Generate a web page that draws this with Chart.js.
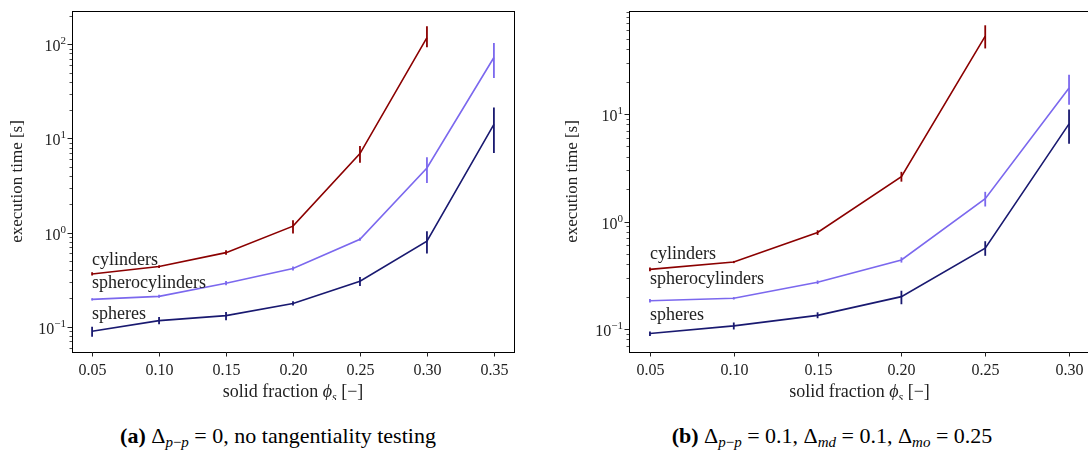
<!DOCTYPE html>
<html>
<head>
<meta charset="utf-8">
<script src="https://cdn.jsdelivr.net/npm/chart.js@4"></script>
<style>
  body { margin: 0; width: 1088px; height: 452px; overflow: hidden; background: #fff; position: relative;
         font-family: 'Liberation Serif', 'DejaVu Serif', serif; color: #000; }
  canvas { position: absolute; top: 0; }
  #chartA { left: 0; }
  #chartB { left: 544px; }
  .cap { position: absolute; top: 423px; height: 26px; line-height: 26px; font-size: 22px;
         white-space: nowrap; transform: translateX(-50%); }
  .cap sub { font-size: 15px; vertical-align: -4px; line-height: 0; }
</style>
</head>
<body>
<canvas id="chartA" width="544" height="400"></canvas>
<canvas id="chartB" width="560" height="400"></canvas>
<div class="cap" style="left:278px"><b>(a)</b> Δ<sub><i>p</i>−<i>p</i></sub> = 0, no tangentiality testing</div>
<div class="cap" style="left:832px"><b>(b)</b> Δ<sub><i>p</i>−<i>p</i></sub> = 0.1, Δ<sub><i>md</i></sub> = 0.1, Δ<sub><i>mo</i></sub> = 0.25</div>
<script>
const FONT = "'Liberation Serif', 'DejaVu Serif', serif";

// series names, colours and where their labels sit (data coords, x = first fraction)
const names = ['cylinders', 'spherocylinders', 'spheres'];
const colors = ['#8b0000', '#7b68ee', '#191970'];
const labelY = [0.45, 0.26, 0.12];

// (a) no tangentiality testing
const fracA = [0.05, 0.10, 0.15, 0.20, 0.25, 0.30, 0.35];
const cylA   = [0.363, 0.435, 0.612, 1.17, 6.9, 118];
const cylLoA = [0.35, 0.42, 0.58, 0.98, 5.5, 93];
const cylHiA = [0.378, 0.45, 0.65, 1.35, 8.3, 156];
const sphcA   = [0.195, 0.21, 0.289, 0.414, 0.849, 4.86, 72.4];
const sphcLoA = [0.19, 0.203, 0.275, 0.395, 0.82, 3.37, 44];
const sphcHiA = [0.2, 0.218, 0.305, 0.435, 0.88, 6.3, 103];
const sphA   = [0.0893, 0.116, 0.131, 0.176, 0.304, 0.81, 14.1];
const sphLoA = [0.078, 0.106, 0.117, 0.168, 0.271, 0.6, 7.0];
const sphHiA = [0.1, 0.127, 0.143, 0.186, 0.337, 1.03, 21.3];

// (b) with tangentiality testing
const fracB = [0.05, 0.10, 0.15, 0.20, 0.25, 0.30];
const cylB   = [0.359, 0.42, 0.79, 2.61, 53.2];
const cylLoB = [0.345, 0.41, 0.75, 2.35, 40.8];
const cylHiB = [0.373, 0.43, 0.83, 2.9, 67];
const sphcB   = [0.183, 0.193, 0.272, 0.439, 1.63, 17.5];
const sphcLoB = [0.176, 0.188, 0.262, 0.415, 1.38, 12.2];
const sphcHiB = [0.19, 0.198, 0.283, 0.465, 1.89, 23.2];
const sphB   = [0.0908, 0.107, 0.134, 0.2, 0.564, 8.1];
const sphLoB = [0.086, 0.099, 0.126, 0.17, 0.48, 5.3];
const sphHiB = [0.095, 0.115, 0.143, 0.227, 0.656, 11.0];

function toPoints(xs, ys) {
  return ys.map((y, i) => ({ x: xs[i], y: y }));
}

// draws a row of [text, font, dy] pieces starting at x
function drawPieces(ctx, pieces, x, y) {
  for (const [t, f, dy] of pieces) {
    ctx.font = f;
    ctx.fillText(t, x, y + dy);
    x += ctx.measureText(t).width;
  }
}
function piecesWidth(ctx, pieces) {
  let w = 0;
  for (const [t, f] of pieces) { ctx.font = f; w += ctx.measureText(t).width; }
  return w;
}

function makeChart(id, xs, series, lo, hi, range, yAxisW, padRight, ylabelX) {
  const deco = {
    id: 'deco',
    afterDatasetsDraw(chart) {
      const ctx = chart.ctx;
      const a = chart.chartArea;
      const sx = chart.scales.x, sy = chart.scales.y;
      ctx.save();

      // error bars
      ctx.lineWidth = 1.8;
      series.forEach((ys, k) => {
        ctx.strokeStyle = colors[k];
        ys.forEach((v, i) => {
          const px = sx.getPixelForValue(xs[i]);
          ctx.beginPath();
          ctx.moveTo(px, sy.getPixelForValue(lo[k][i]));
          ctx.lineTo(px, sy.getPixelForValue(hi[k][i]));
          ctx.stroke();
        });
      });

      // frame
      ctx.strokeStyle = '#000';
      ctx.lineWidth = 1;
      ctx.strokeRect(Math.round(a.left) + 0.5, Math.round(a.top) + 0.5,
                     Math.round(a.right - a.left), Math.round(a.bottom - a.top));

      ctx.fillStyle = '#222';
      ctx.strokeStyle = '#222';
      // x ticks
      ctx.font = '16px ' + FONT;
      ctx.textAlign = 'center';
      ctx.textBaseline = 'alphabetic';
      xs.forEach(v => {
        const px = Math.round(sx.getPixelForValue(v)) + 0.5;
        ctx.beginPath(); ctx.moveTo(px, a.bottom); ctx.lineTo(px, a.bottom + 4.5); ctx.stroke();
        ctx.fillText(v.toFixed(2), px, a.bottom + 23);
      });

      // y ticks (log, with minor ticks)
      ctx.textAlign = 'left';
      const d0 = Math.floor(Math.log10(range.ymin)), d1 = Math.ceil(Math.log10(range.ymax));
      for (let d = d0; d <= d1; d++) {
        for (let m = 1; m <= 9; m++) {
          const v = m * Math.pow(10, d);
          if (v < range.ymin || v > range.ymax) continue;
          const py = Math.round(sy.getPixelForValue(v)) + 0.5;
          const len = m === 1 ? 4.5 : 2.5;
          ctx.lineWidth = m === 1 ? 1 : 0.8;
          ctx.beginPath(); ctx.moveTo(a.left, py); ctx.lineTo(a.left - len, py); ctx.stroke();
          if (m === 1) {
            const exp = d < 0 ? '\u2212' + (-d) : String(d);
            const pieces = [['10', '16px ' + FONT, 6], [exp, '11px ' + FONT, -1]];
            const w = piecesWidth(ctx, pieces);
            drawPieces(ctx, pieces, a.left - 6 - w, py);
          }
        }
      }

      // series labels inside the axes
      ctx.fillStyle = '#222';
      ctx.font = '18px ' + FONT;
      names.forEach((n, k) => {
        if (!series[k]) return;
        ctx.fillText(n, sx.getPixelForValue(xs[0]), sy.getPixelForValue(labelY[k]));
      });

      // x axis title
      const xl = [['solid fraction ', '18px ' + FONT, 0], ['\u03d5', 'italic 18px ' + FONT, 0],
                  ['s', 'italic 12px ' + FONT, 4], [' [\u2212]', '18px ' + FONT, 0]];
      const xw = piecesWidth(ctx, xl);
      drawPieces(ctx, xl, (a.left + a.right) / 2 - xw / 2, a.bottom + 45);

      // y axis title
      ctx.save();
      ctx.translate(ylabelX, (a.top + a.bottom) / 2);
      ctx.rotate(-Math.PI / 2);
      ctx.textAlign = 'center';
      ctx.font = '17px ' + FONT;
      ctx.fillText('execution time [s]', 0, 5);
      ctx.restore();

      ctx.restore();
    }
  };

  return new Chart(document.getElementById(id), {
    type: 'line',
    data: {
      datasets: series.map((ys, k) => ({
        label: names[k],
        data: toPoints(xs, ys),
        borderColor: colors[k],
        borderWidth: 1.6,
        pointRadius: 0,
        fill: false,
        tension: 0
      }))
    },
    options: {
      responsive: false,
      animation: false,
      layout: { padding: { top: 11, right: padRight, left: 0, bottom: 0 } },
      plugins: { legend: { display: false }, tooltip: { enabled: false } },
      scales: {
        x: {
          type: 'linear', min: range.xmin, max: range.xmax,
          ticks: { display: false }, grid: { display: false }, border: { display: false },
          afterFit: s => { s.height = 48; }
        },
        y: {
          type: 'logarithmic', min: range.ymin, max: range.ymax,
          ticks: { display: false }, grid: { display: false }, border: { display: false },
          afterFit: s => { s.width = yAxisW; }
        }
      }
    },
    plugins: [deco]
  });
}

makeChart('chartA', fracA, [cylA, sphcA, sphA], [cylLoA, sphcLoA, sphLoA], [cylHiA, sphcHiA, sphHiA],
          { xmin: 0.035, xmax: 0.365, ymin: 0.0538, ymax: 226 }, 72, 30, 17);
makeChart('chartB', fracB, [cylB, sphcB, sphB], [cylLoB, sphcLoB, sphLoB], [cylHiB, sphcHiB, sphHiB],
          { xmin: 0.0375, xmax: 0.3125, ymin: 0.0611, ymax: 91 }, 85, 14, 28);
</script>
</body>
</html>
